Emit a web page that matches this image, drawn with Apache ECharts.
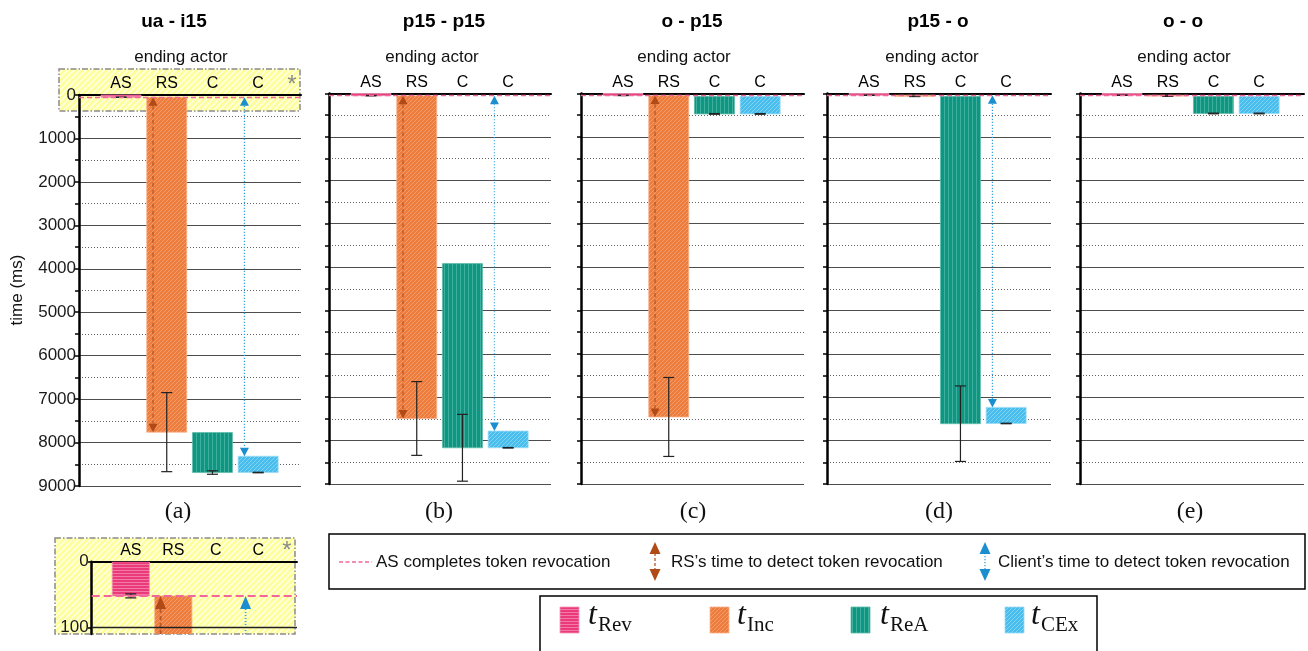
<!DOCTYPE html>
<html><head><meta charset="utf-8">
<script src="https://cdn.jsdelivr.net/npm/echarts@6/dist/echarts.min.js"></script>
<style>html,body{margin:0;padding:0;background:#fff}#c{width:1308px;height:651px}</style>
</head><body><div id="c"></div><script>
// ---------- DATA ----------
const panelTitles = ['ua - i15', 'p15 - p15', 'o - p15', 'p15 - o', 'o - o'];
const captions = ['(a)', '(b)', '(c)', '(d)', '(e)'];
const actors = ['AS', 'RS', 'C', 'C'];
const timeTicks = [0, 1000, 2000, 3000, 4000, 5000, 6000, 7000, 8000, 9000];
const insetTicks = [0, 100];
// stage boundaries (ms) per panel
const revEnd   = [52, 50, 45, 40, 40];
const incEnd   = [7760, 7490, 7455, 65, 60];
const reaStart = [7770, 3920, 65, 65, 65];
const reaEnd   = [8690, 8165, 470, 7610, 460];
const cexStart = [8315, 7780, 65, 7235, 65];
const cexEnd   = [8690, 8165, 470, 7605, 460];
// error half-widths (ms)
const revErr = [3, 4, 4, 4, 4];
const incErr = [910, 850, 910, 6, 6];
const reaErr = [40, 770, 8, 870, 8];
const cexErr = [6, 6, 8, 6, 8];
// detection arrows [from, to] (ms) or null
const rsDetect     = [[52, 7760], [50, 7490], [45, 7455], null, null];
const clientDetect = [[52, 8315], [50, 7780], null, [40, 7235], null];
// legend texts
const legendLines = ['AS completes token revocation', "RS\u2019s time to detect token revocation", "Client\u2019s time to detect token revocation"];
const legendStages = [['t', 'Rev'], ['t', 'Inc'], ['t', 'ReA'], ['t', 'CEx']];

// ---------- STYLE ----------
const SANS = '"Liberation Sans", Arial, Helvetica, sans-serif';
const SERIF = '"Liberation Serif", "Times New Roman", serif';
function pat(base, stripe, kind, n, lw) {
  const c = document.createElement('canvas'); c.width = n; c.height = n;
  const g = c.getContext('2d');
  g.fillStyle = base; g.fillRect(0, 0, n, n);
  g.fillStyle = stripe; g.strokeStyle = stripe; g.lineWidth = lw || 1;
  if (kind === 'v') g.fillRect(0, 0, 1, n);
  else if (kind === 'h') g.fillRect(0, 0, n, 1);
  else {
    g.beginPath();
    g.moveTo(0, n); g.lineTo(n, 0);
    g.moveTo(-1, 1); g.lineTo(1, -1);
    g.moveTo(n - 1, n + 1); g.lineTo(n + 1, n - 1);
    g.stroke();
  }
  return { image: c, repeat: 'repeat' };
}
const fills = [
  pat('#EB3A7A', '#F27AA4', 'h', 3),
  pat('#EE7C3C', '#F49D6C', 'd', 4),
  pat('#0F9682', '#3FB09D', 'v', 4),
  pat('#47BEEE', '#82D2F3', 'd', 4)
];
const edge = ['#F597B8', '#F6B08A', '#5DBBAA', '#9ADAF5'];
const yellow = pat('#FFFF99', '#FFFFE2', 'd', 6, 1.6);

function barData(i) {
  return [
    [1, 0, revEnd[i], revErr[i], 0],
    [2, revEnd[i], incEnd[i], incErr[i], 1],
    [3, reaStart[i], reaEnd[i], reaErr[i], 2],
    [4, cexStart[i], cexEnd[i], cexErr[i], 3]
  ];
}
function arrowData(i) {
  const d = [];
  if (rsDetect[i]) d.push([2, rsDetect[i][0], rsDetect[i][1], 0]);
  if (clientDetect[i]) d.push([4, clientDetect[i][0], clientDetect[i][1], 1]);
  return d;
}
function barRender(capW) {
  return function (params, api) {
    const x = api.value(0), s = api.value(1), e = api.value(2), err = api.value(3), k = api.value(4);
    const band = api.size([1, 0])[0];
    const w = band * 0.875;
    const p0 = api.coord([x, s]), p1 = api.coord([x, e]);
    const top = Math.min(p0[1], p1[1]), h = Math.max(Math.abs(p1[1] - p0[1]), 0.8);
    const cx = p0[0];
    const ea = api.coord([x, e - err])[1], eb = api.coord([x, e + err])[1];
    return { type: 'group', children: [
      { type: 'rect', shape: { x: cx - w / 2, y: top, width: w, height: h },
        style: { fill: fills[k], stroke: edge[k], lineWidth: 0.8 } },
      { type: 'line', shape: { x1: cx, y1: ea, x2: cx, y2: eb }, style: { stroke: '#222', lineWidth: 1.2 }, z2: 5 },
      { type: 'line', shape: { x1: cx - capW / 2, y1: ea, x2: cx + capW / 2, y2: ea }, style: { stroke: '#222', lineWidth: 1.2 }, z2: 5 },
      { type: 'line', shape: { x1: cx - capW / 2, y1: eb, x2: cx + capW / 2, y2: eb }, style: { stroke: '#222', lineWidth: 1.2 }, z2: 5 }
    ] };
  };
}
function arrowRender(hw, hh, lw) {
  return function (params, api) {
    const x = api.value(0), a = api.value(1), b = api.value(2), kind = api.value(3);
    const band = api.size([1, 0])[0];
    const px = api.coord([x, a])[0] - band * 0.3;
    const ya = api.coord([x, a])[1], yb = api.coord([x, b])[1];
    const color = kind === 0 ? '#B04A16' : '#1B8ECF';
    const shaft = kind === 0 ? '#B5582A' : '#3AA5DD';
    const dash = kind === 0 ? [4, 3] : [1.2, 1.8];
    return { type: 'group', children: [
      { type: 'line', shape: { x1: px, y1: ya + hh, x2: px, y2: yb - hh }, style: { stroke: shaft, lineWidth: lw, lineDash: dash } },
      { type: 'polygon', shape: { points: [[px, ya], [px - hw, ya + hh], [px + hw, ya + hh]] }, style: { fill: color } },
      { type: 'polygon', shape: { points: [[px, yb], [px - hw, yb - hh], [px + hw, yb - hh]] }, style: { fill: color } }
    ] };
  };
}

const panelLeft = [79, 329, 581, 827, 1080];
const panelTop = [95, 93.5, 93.5, 93.5, 93.5];
const panelW = [222, 222, 223, 224, 224];
const panelH = [391, 390.5, 390.5, 390.5, 390.5];

const grid = [], xAxis = [], yAxis = [], series = [];
for (let i = 0; i < 5; i++) {
  grid.push({ left: panelLeft[i], top: panelTop[i], width: panelW[i], height: panelH[i] });
  xAxis.push({ gridIndex: i, type: 'value', min: 0.08, max: 0.08 + panelW[i] / 45.7, position: 'top',
    axisLine: { show: true, onZero: false, lineStyle: { color: '#000', width: 2 } },
    axisTick: { show: false }, splitLine: { show: false },
    axisLabel: { customValues: [1, 2, 3, 4], formatter: v => actors[Math.round(v) - 1], fontSize: 16, color: '#000', margin: 3, fontFamily: SANS } });
  yAxis.push({ gridIndex: i, type: 'value', inverse: true, min: timeTicks[0], max: timeTicks[timeTicks.length - 1], interval: timeTicks[1] - timeTicks[0],
    axisLine: { show: true, onZero: false, lineStyle: { color: '#000', width: 2.5 } },
    axisTick: { show: true, length: 4, lineStyle: { color: '#000', width: 1.5 } },
    minorTick: { show: true, splitNumber: 2, length: 4, lineStyle: { color: '#000', width: 1.5 } },
    axisLabel: { show: i === 0, formatter: v => String(v), fontSize: 17, color: '#1a1a1a', margin: 3, fontFamily: SANS },
    splitLine: { show: true, lineStyle: { color: '#4d4d4d', width: 1.2 } },
    minorSplitLine: { show: true, lineStyle: { color: '#666', width: 1, type: [1, 2] } } });
  series.push({ type: 'custom', xAxisIndex: i, yAxisIndex: i, renderItem: barRender(11), data: barData(i), z: 3, silent: true,
    markLine: { silent: true, symbol: 'none', label: { show: false }, animation: false,
      lineStyle: { color: '#F2679A', type: [5, 3], width: 1.4 }, data: [{ yAxis: revEnd[i] }] } });
  series.push({ type: 'custom', xAxisIndex: i, yAxisIndex: i, renderItem: arrowRender(4.5, 8.5, 1.3), data: arrowData(i), z: 4, silent: true });
}
// inset: zoom of panel (a), 0..110 ms
grid.push({ left: 91.7, top: 561.7, width: 205.3, height: 72.3 });
xAxis.push({ gridIndex: 5, type: 'value', min: 0.08, max: 4.91, position: 'top',
  axisLine: { show: true, onZero: false, lineStyle: { color: '#000', width: 2 } },
  axisTick: { show: false }, splitLine: { show: false },
  axisLabel: { customValues: [1, 2, 3, 4], formatter: v => actors[Math.round(v) - 1], fontSize: 16, color: '#000', margin: 3, fontFamily: SANS } });
yAxis.push({ gridIndex: 5, type: 'value', inverse: true, min: 0, max: 110,
  axisLine: { show: true, onZero: false, lineStyle: { color: '#000', width: 2.5 } },
  axisTick: { show: true, customValues: insetTicks, length: 4, lineStyle: { color: '#000', width: 1.5 } },
  axisLabel: { customValues: insetTicks, formatter: v => String(v), fontSize: 17, color: '#1a1a1a', margin: 3, fontFamily: SANS },
  splitLine: { show: false } });
series.push({ type: 'custom', xAxisIndex: 5, yAxisIndex: 5, renderItem: barRender(11), data: barData(0), z: 3, clip: true, silent: true,
  markLine: { silent: true, symbol: 'none', label: { show: false }, animation: false,
    data: [
      { yAxis: insetTicks[1], lineStyle: { color: '#222', type: 'solid', width: 1.3 } },
      { yAxis: revEnd[0], lineStyle: { color: '#F2679A', type: [8, 4], width: 2 } }
    ] } });
series.push({ type: 'custom', xAxisIndex: 5, yAxisIndex: 5, renderItem: arrowRender(5.5, 13, 1.8), data: arrowData(0), z: 4, clip: true, silent: true });

// ---------- GRAPHIC TEXTS / LEGENDS ----------
const el = [];
function txt(x, y, text, font, fill, align, extra) {
  return Object.assign({ type: 'text', x: x, y: y, silent: true,
    style: { text: text, font: font, fill: fill || '#000', align: align || 'center', textAlign: align || 'center', verticalAlign: 'middle', textVerticalAlign: 'middle' } }, extra || {});
}
// hatched highlight boxes (behind plots)
el.push({ type: 'rect', z: -10, silent: true, shape: { x: 59, y: 69, width: 241, height: 42 },
  style: { fill: yellow, stroke: '#8A8A8A', lineWidth: 1.5, lineDash: [6, 2, 1.5, 2] } });
el.push({ type: 'rect', z: -10, silent: true, shape: { x: 55, y: 538, width: 240, height: 96 },
  style: { fill: yellow, stroke: '#8A8A8A', lineWidth: 1.5, lineDash: [6, 2, 1.5, 2] } });
el.push(txt(292, 85, '*', '24px ' + SANS, '#8A8A8A'));
el.push(txt(287, 551, '*', '24px ' + SANS, '#8A8A8A'));

const titleX = [174, 444, 692, 938, 1183];
const actorTitleX = [181, 432, 684, 932, 1184];
const captionX = [178, 439, 693, 939, 1190];
for (let i = 0; i < 5; i++) {
  el.push(txt(titleX[i], 22, panelTitles[i], 'bold 19px ' + SANS, '#000'));
  el.push(txt(actorTitleX[i], 57, 'ending actor', '17px ' + SANS, '#111'));
  el.push(txt(captionX[i], 512, captions[i], '24px ' + SERIF, '#111'));
}
el.push(txt(17, 290, 'time (ms)', '17px ' + SANS, '#111', 'center', { rotation: Math.PI / 2 }));

// legend box 1
el.push({ type: 'rect', silent: true, shape: { x: 329, y: 534, width: 976, height: 55 }, style: { fill: 'none', stroke: '#000', lineWidth: 1.5 } });
el.push({ type: 'line', silent: true, shape: { x1: 339, y1: 562, x2: 372, y2: 562 }, style: { stroke: '#F2679A', lineWidth: 1.5, lineDash: [4, 2.5] } });
el.push(txt(376, 562, legendLines[0], '17px ' + SANS, '#111', 'left'));
function dblArrow(x, color, shaft, dash) {
  el.push({ type: 'line', silent: true, shape: { x1: x, y1: 553, x2: x, y2: 570 }, style: { stroke: shaft, lineWidth: 1.3, lineDash: dash } });
  el.push({ type: 'polygon', silent: true, shape: { points: [[x, 542], [x - 5.5, 554], [x + 5.5, 554]] }, style: { fill: color } });
  el.push({ type: 'polygon', silent: true, shape: { points: [[x, 581], [x - 5.5, 569], [x + 5.5, 569]] }, style: { fill: color } });
}
dblArrow(655, '#B04A16', '#B5582A', [3, 2]);
el.push(txt(671, 562, legendLines[1], '17px ' + SANS, '#111', 'left'));
dblArrow(985, '#1B8ECF', '#3AA5DD', [1.2, 1.8]);
el.push(txt(998, 562, legendLines[2], '17px ' + SANS, '#111', 'left'));

// legend box 2
el.push({ type: 'rect', silent: true, shape: { x: 540, y: 596, width: 557, height: 70 }, style: { fill: 'none', stroke: '#000', lineWidth: 1.5 } });
const swX = [560, 710, 851, 1005];
const tX = [588, 737, 880, 1031];
legendStages.forEach((s, k) => {
  el.push({ type: 'rect', silent: true, shape: { x: swX[k], y: 607, width: 19, height: 26 }, style: { fill: fills[k], stroke: edge[k], lineWidth: 0.8 } });
  el.push(txt(tX[k], 616, s[0], 'italic 32px ' + SERIF, '#111', 'left'));
  el.push(txt(tX[k] + 10, 625, s[1], '21px ' + SERIF, '#111', 'left'));
});

const chart = echarts.init(document.getElementById('c'), null, { renderer: 'canvas' });
chart.setOption({ animation: false, backgroundColor: '#fff', grid, xAxis, yAxis, series, graphic: { elements: el } });
</script></body></html>
